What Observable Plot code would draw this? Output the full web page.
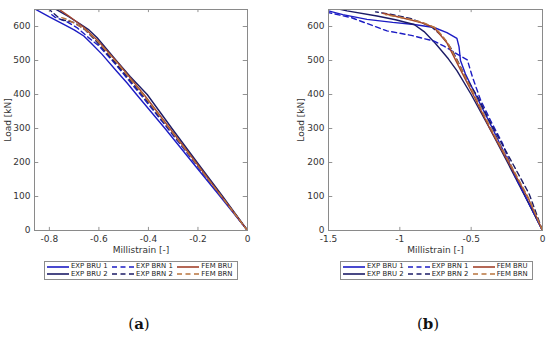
<!DOCTYPE html>
<html>
<head>
<meta charset="utf-8">
<script src="https://cdn.jsdelivr.net/npm/d3@7"></script>
<script src="https://cdn.jsdelivr.net/npm/@observablehq/plot@0.6"></script>
<style>
  html, body { margin: 0; padding: 0; background: #fff; }
  #wrap { position: relative; width: 550px; height: 337px; overflow: hidden; font-family: "DejaVu Sans", sans-serif; }
  .panel { position: absolute; top: 0; width: 275px; height: 337px; }
  .legend { position: absolute; border: 1px solid #8c8c8c; background: #fff; box-sizing: border-box;
            display: grid; grid-template-columns: auto auto auto; column-gap: 2px; row-gap: 0px;
            padding: 1px 2px; font-size: 6.9px; color: #222; line-height: 7.5px; }
  .item { display: flex; align-items: center; white-space: nowrap; }
  .item svg { margin-right: 2px; }
  .cap { position: absolute; font-family: "DejaVu Serif", serif; font-size: 15px; color: #111; transform: translateX(-50%); }
</style>
</head>
<body>
<div id="wrap">
  <div class="panel" id="pa" style="left:0px"></div>
  <div class="panel" id="pb" style="left:275px"></div>
</div>
<script>
// ---- Panel (a) data: [millistrain, load kN] ----
const a_EXP_BRU1 = [[0,0],[-0.11,100],[-0.222,200],[-0.333,300],[-0.448,400],[-0.486,434],[-0.53,470],[-0.587,518],[-0.63,550],[-0.661,572],[-0.70,590],[-0.742,606],[-0.80,628],[-0.857,651]];
const a_EXP_BRU2 = [[0,0],[-0.1,100],[-0.2,197],[-0.302,297],[-0.405,400],[-0.473,452],[-0.53,500],[-0.607,567],[-0.64,590],[-0.675,607],[-0.72,628],[-0.782,654]];
const a_EXP_BRN1 = [[0,0],[-0.106,100],[-0.214,200],[-0.322,300],[-0.432,400],[-0.54,495],[-0.60,543],[-0.643,568],[-0.689,597],[-0.73,614],[-0.776,627],[-0.80,640]];
const a_EXP_BRN2 = [[0,0],[-0.104,100],[-0.21,200],[-0.318,300],[-0.426,400],[-0.535,495],[-0.60,548],[-0.655,590],[-0.70,612],[-0.755,621],[-0.80,650]];
const a_FEM_BRU = [[0,0],[-0.102,98],[-0.205,197],[-0.31,297],[-0.415,397],[-0.52,490],[-0.60,555],[-0.66,597],[-0.72,630],[-0.76,650]];
const a_FEM_BRN = [[0,0],[-0.103,98],[-0.208,197],[-0.313,297],[-0.418,397],[-0.523,490],[-0.603,555],[-0.66,594],[-0.728,621],[-0.75,626]];

// ---- Panel (b) data ----
const b_EXP_BRU1 = [[0,0],[-0.12,100],[-0.235,200],[-0.35,300],[-0.47,400],[-0.54,460],[-0.575,500],[-0.585,540],[-0.60,565],[-0.67,582],[-0.76,597],[-0.90,606],[-1.05,612],[-1.23,621],[-1.40,635],[-1.50,646]];
const b_EXP_BRU2 = [[0,0],[-0.122,100],[-0.245,200],[-0.37,300],[-0.50,400],[-0.60,470],[-0.66,505],[-0.75,550],[-0.83,585],[-0.90,606],[-1.03,620],[-1.16,631],[-1.37,646],[-1.48,656]];
const b_EXP_BRN1 = [[0,0],[-0.094,79],[-0.19,157],[-0.28,256],[-0.36,320],[-0.434,384],[-0.49,450],[-0.527,502],[-0.586,516],[-0.69,542],[-0.76,557],[-0.92,574],[-1.09,587],[-1.34,626],[-1.50,641]];
const b_EXP_BRN2 = [[0,0],[-0.094,108],[-0.234,216],[-0.375,325],[-0.45,390],[-0.54,452],[-0.633,531],[-0.70,570],[-0.78,600],[-0.92,623],[-1.05,635],[-1.17,643]];
const b_FEM_BRU = [[0,0],[-0.094,89],[-0.234,197],[-0.375,305],[-0.49,403],[-0.586,482],[-0.67,552],[-0.76,597],[-0.84,610],[-0.92,619],[-1.12,639]];
const b_FEM_BRN = [[0,0],[-0.092,91],[-0.23,199],[-0.37,307],[-0.485,405],[-0.58,485],[-0.665,553],[-0.75,596],[-0.84,612],[-0.95,623],[-1.10,635]];

const seriesNames = ["EXP BRU 1","EXP BRN 1","FEM BRU","EXP BRU 2","EXP BRN 2","FEM BRN"];
const seriesColors = {"EXP BRU 1":"#1c1cc4","EXP BRU 2":"#1b1b66","EXP BRN 1":"#1c1cc4","EXP BRN 2":"#1b1b66","FEM BRU":"#a3432c","FEM BRN":"#b8743e"};
const seriesDash = {"EXP BRU 1":null,"EXP BRU 2":null,"EXP BRN 1":"5,3.5","EXP BRN 2":"5,3.5","FEM BRU":null,"FEM BRN":"5,3.5"};

const ticksA = [-0.8,-0.6,-0.4,-0.2,0];
const tickLabelsA = ["-0.8","-0.6","-0.4","-0.2","0"];
const ticksB = [-1.5,-1,-0.5,0];
const tickLabelsB = ["-1.5","-1","-0.5","0"];
const yTicks = [0,100,200,300,400,500,600];

function panel(el, series, xDomain, xt, xtl, ml, mr, labelOff) {
  const ymax = 650;
  const ytl = ymax * 0.014;
  const xtl2 = (xDomain[1]-xDomain[0]) * 0.02;
  const marks = [];
  for (const [name, data] of series) {
    marks.push(Plot.line(data, {x: d => d[0], y: d => d[1], stroke: seriesColors[name],
      strokeWidth: 1.4, strokeDasharray: seriesDash[name], clip: true}));
  }
  // inward ticks on all four sides
  marks.push(Plot.ruleX(xt, {y1: 0, y2: ytl, stroke: "#777", strokeWidth: 0.8}));
  marks.push(Plot.ruleX(xt, {y1: ymax - ytl, y2: ymax, stroke: "#777", strokeWidth: 0.8}));
  marks.push(Plot.ruleY(yTicks, {x1: xDomain[0], x2: xDomain[0] + xtl2, stroke: "#777", strokeWidth: 0.8}));
  marks.push(Plot.ruleY(yTicks, {x1: xDomain[1] - xtl2, x2: xDomain[1], stroke: "#777", strokeWidth: 0.8}));
  marks.push(Plot.frame({stroke: "#8a8a8a", strokeWidth: 1}));
  marks.push(Plot.axisX({ticks: xt, tickSize: 0, tickPadding: 5, tickFormat: (d) => xtl[xt.indexOf(d)],
    label: "Millistrain [-]", labelArrow: "none", labelAnchor: "center", labelOffset: 22, fontSize: 9, color: "#333"}));
  marks.push(Plot.axisY({ticks: yTicks, tickSize: 0, tickPadding: 4,
    label: "Load [kN]", labelArrow: "none", labelAnchor: "center", labelOffset: labelOff, fontSize: 9, color: "#333"}));
  const chart = Plot.plot({
    width: 275, height: 256,
    marginLeft: ml, marginRight: mr, marginTop: 9, marginBottom: 26,
    style: {fontFamily: "DejaVu Sans, sans-serif", fontSize: "9px", color: "#333", background: "#fff"},
    x: {domain: xDomain},
    y: {domain: [0, ymax]},
    marks
  });
  el.appendChild(chart);
}

panel(document.getElementById("pa"),
  [["EXP BRU 1", a_EXP_BRU1],["EXP BRU 2", a_EXP_BRU2],["EXP BRN 1", a_EXP_BRN1],["EXP BRN 2", a_EXP_BRN2],["FEM BRU", a_FEM_BRU],["FEM BRN", a_FEM_BRN]],
  [-0.86, 0], ticksA, tickLabelsA, 34, 28, 30);
panel(document.getElementById("pb"),
  [["EXP BRU 1", b_EXP_BRU1],["EXP BRU 2", b_EXP_BRU2],["EXP BRN 1", b_EXP_BRN1],["EXP BRN 2", b_EXP_BRN2],["FEM BRU", b_FEM_BRU],["FEM BRN", b_FEM_BRN]],
  [-1.5, 0], ticksB, tickLabelsB, 53, 8, 31);

function legend(el, left, top, width) {
  const box = document.createElement("div");
  box.className = "legend";
  box.style.left = left + "px"; box.style.top = top + "px"; box.style.width = width + "px";
  for (const name of seriesNames) {
    const it = document.createElement("div");
    it.className = "item";
    const dash = seriesDash[name] ? ` stroke-dasharray="5,3.5"` : "";
    it.innerHTML = `<svg width="22" height="4"><line x1="0" y1="2" x2="22" y2="2" stroke="${seriesColors[name]}" stroke-width="1.6"${dash}/></svg><span>${name}</span>`;
    box.appendChild(it);
  }
  el.appendChild(box);
}
legend(document.getElementById("pa"), 44, 261, 194);
legend(document.getElementById("pb"), 65, 261, 193);

function caption(el, cx, letter) {
  const c = document.createElement("div");
  c.className = "cap";
  c.style.left = cx + "px"; c.style.top = "315px";
  c.innerHTML = `(<b>${letter}</b>)`;
  el.appendChild(c);
}
caption(document.getElementById("pa"), 139, "a");
caption(document.getElementById("pb"), 153, "b");
</script>
</body>
</html>
